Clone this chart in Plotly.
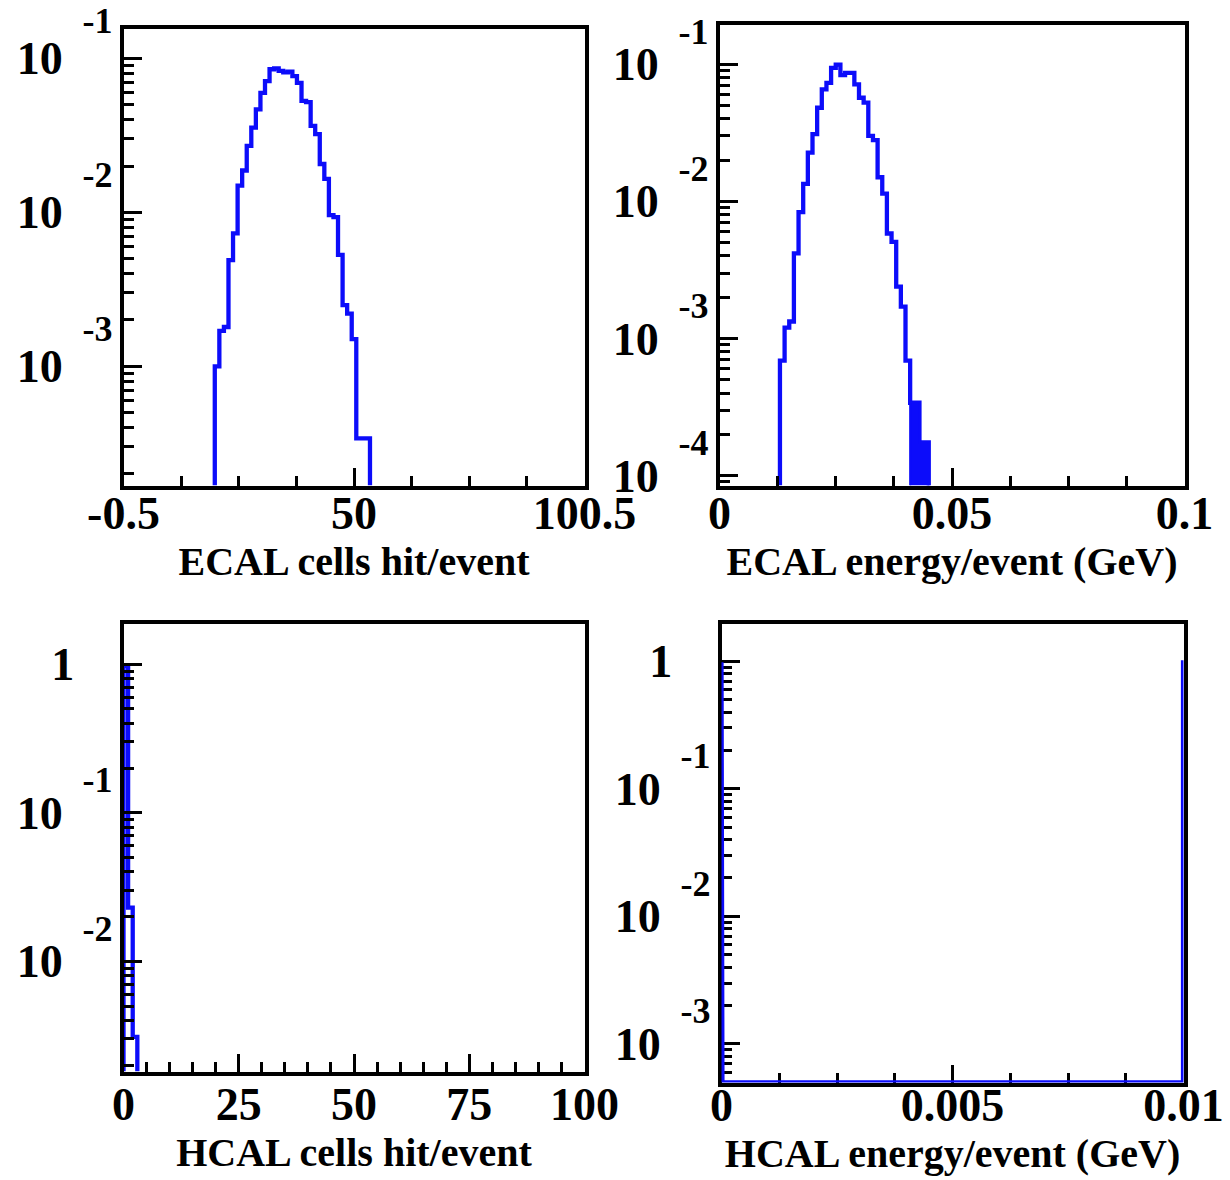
import numpy as np
import plotly.graph_objects as go

W, H = 1230, 1180

# ---------------- data ----------------
# Panel 1: ECAL cells hit/event, bins of width 1 from -0.5 to 100.5
ecal_hits_lo, ecal_hits_hi, ecal_hits_nbins = -0.5, 100.5, 101
ecal_hits_first_bin = 20
ecal_hits_values = [0.0010, 0.0017, 0.0018, 0.0049, 0.0073, 0.0149, 0.0187, 0.0270,
                    0.0355, 0.0467, 0.0597, 0.0711, 0.0850, 0.0860, 0.0830, 0.0810,
                    0.0820, 0.0766, 0.0693, 0.0530, 0.0520, 0.0364, 0.0322, 0.0206,
                    0.0165, 0.0096, 0.0093, 0.0053, 0.0025, 0.0022, 0.0015, 0.00034,
                    0.00034, 0.00034]

# Panel 2: ECAL energy/event (GeV), bins of width 0.001 from 0 to 0.1
ecal_e_lo, ecal_e_hi, ecal_e_nbins = 0.0, 0.1, 100
ecal_e_first_bin = 13
ecal_e_values = [0.00069, 0.00120, 0.00133, 0.00418, 0.00836, 0.0134, 0.0227, 0.0309,
                 0.0482, 0.0656, 0.0731, 0.0940, 0.0995, 0.0832, 0.0865, 0.0865,
                 0.0713, 0.0570, 0.0525, 0.0300, 0.0280, 0.0150, 0.0114, 0.00583,
                 0.00507, 0.00239, 0.00171, 0.00069, 0.00034, 0.00034, 0.000175, 0.000175]
ecal_e_dense_bins = [41, 42, 43, 44]

# Panel 3: HCAL cells hit/event, bins of width 1 from 0 to 100
hcal_hits_lo, hcal_hits_hi, hcal_hits_nbins = 0.0, 100.0, 100
hcal_hits_first_bin = 0
hcal_hits_values = [0.974, 0.023, 0.0031]

# Panel 4: HCAL energy/event (GeV), 1000 bins from 0 to 0.01
hcal_e_lo, hcal_e_hi, hcal_e_nbins = 0.0, 0.01, 1000
hcal_e_nonzero_bins = [0, 999]
hcal_e_nonzero_values = [0.98, 0.98]

# axis labels
titles = ["ECAL cells hit/event", "ECAL energy/event (GeV)",
          "HCAL cells hit/event", "HCAL energy/event (GeV)"]
x_major = [[-0.5, 50, 100.5], [0, 0.05, 0.1], [0, 25, 50, 75, 100], [0, 0.005, 0.01]]
x_major_text = [["-0.5", "50", "100.5"], ["0", "0.05", "0.1"],
                ["0", "25", "50", "75", "100"], ["0", "0.005", "0.01"]]
x_minor_step = [12.625, 0.0125, 5, 0.00125]
y_decades = [[-3, -2, -1], [-4, -3, -2, -1], [-2, -1, 0], [-3, -2, -1, 0]]

# ---------------- layout geometry (pixels) ----------------
frames = [  # left, right, top, bottom
    (123.5, 584.5, 28.5, 485.5),
    (719.5, 1184.5, 24.5, 485.5),
    (123.5, 584.5, 623.5, 1071.5),
    (721.5, 1183.5, 623.5, 1082.5),
]
y_log_ranges = [(-3.774, -0.806), (-4.072, -0.710), (-2.742, 0.274), (-3.303, 0.296)]
x_label_standoff = [-16, -16, -11, -21]
exp_shift = [-38, -33, -33, -33]

BLUE = "rgb(12,12,250)"
FONT = "Liberation Serif, Times New Roman, serif"


def steps(edges, vals, ymin):
    vals = np.maximum(np.asarray(vals, float), ymin)
    xs = np.repeat(edges, 2)
    ys = np.concatenate([[ymin], np.repeat(vals, 2), [ymin]])
    return xs, ys


fig = go.Figure()

specs = [
    (ecal_hits_lo, ecal_hits_hi, ecal_hits_nbins, ecal_hits_first_bin, ecal_hits_values),
    (ecal_e_lo, ecal_e_hi, ecal_e_nbins, ecal_e_first_bin, ecal_e_values),
    (hcal_hits_lo, hcal_hits_hi, hcal_hits_nbins, hcal_hits_first_bin, hcal_hits_values),
]
for i, (lo, hi, nb, fb, vals) in enumerate(specs):
    w = (hi - lo) / nb
    edges = lo + w * np.arange(fb, fb + len(vals) + 1)
    ymin = 10 ** y_log_ranges[i][0]
    xs, ys = steps(edges, vals, ymin)
    sfx = "" if i == 0 else str(i + 1)
    fig.add_trace(go.Scatter(x=xs, y=ys, mode="lines", line=dict(color=BLUE, width=4.3),
                             xaxis="x" + sfx, yaxis="y" + sfx, showlegend=False,
                             hoverinfo="skip"))
    if i == 1:
        dvals = [vals[b - fb] for b in ecal_e_dense_bins]
        dedges = lo + w * np.arange(ecal_e_dense_bins[0], ecal_e_dense_bins[-1] + 2)
        dx, dy = steps(dedges, dvals, ymin)
        fig.add_trace(go.Scatter(x=dx, y=dy, mode="lines", fill="toself",
                                 fillcolor=BLUE, line=dict(color=BLUE, width=2),
                                 xaxis="x2", yaxis="y2", showlegend=False,
                                 hoverinfo="skip"))

hv = np.zeros(hcal_e_nbins)
hv[hcal_e_nonzero_bins] = hcal_e_nonzero_values
hedges = np.linspace(hcal_e_lo, hcal_e_hi, hcal_e_nbins + 1)
xs, ys = steps(hedges, hv, 10 ** y_log_ranges[3][0])
fig.add_trace(go.Scatter(x=xs, y=ys, mode="lines", line=dict(color=BLUE, width=4.3),
                         xaxis="x4", yaxis="y4", showlegend=False, hoverinfo="skip"))

layout = dict(width=W, height=H, margin=dict(l=0, r=0, t=0, b=0), autosize=False,
              paper_bgcolor="white", plot_bgcolor="white",
              font=dict(family=FONT, size=46, color="black", weight="bold"),
              showlegend=False)

xranges = [(ecal_hits_lo, ecal_hits_hi), (ecal_e_lo, ecal_e_hi),
           (hcal_hits_lo, hcal_hits_hi), (hcal_e_lo, hcal_e_hi)]

for i in range(4):
    l, r, t, b = frames[i]
    sfx = "" if i == 0 else str(i + 1)
    xr = xranges[i]
    ylo, yhi = y_log_ranges[i]
    layer = "below traces" if i == 3 else "above traces"
    minor_x = list(np.arange(xr[0], xr[1] + 1e-12, x_minor_step[i]))
    layout["xaxis" + sfx] = dict(
        domain=[l / W, r / W], anchor="y" + sfx, range=list(xr), automargin=False,
        tickmode="array", tickvals=x_major[i], ticktext=x_major_text[i],
        ticks="inside", ticklen=18, tickwidth=3, tickcolor="black",
        minor=dict(tickmode="array", tickvals=minor_x, ticks="inside", ticklen=10,
                   tickwidth=3, tickcolor="black", showgrid=False),
        showline=True, linewidth=4, linecolor="black", mirror=True,
        showgrid=False, zeroline=False, layer=layer,
        tickfont=dict(size=46), ticklabelstandoff=x_label_standoff[i],
        title=dict(text=titles[i], font=dict(size=40), standoff=6),
    )
    decs = y_decades[i]
    majors = [10.0 ** d for d in decs]
    mtext = ["1" if d == 0 else "10\u00a0" for d in decs]
    minors = [m * 10.0 ** d for d in range(int(np.floor(ylo)), int(np.ceil(yhi)) + 1)
              for m in range(2, 10) if ylo <= np.log10(m * 10.0 ** d) <= yhi]
    layout["yaxis" + sfx] = dict(
        domain=[1 - b / H, 1 - t / H], anchor="x" + sfx, type="log", automargin=False,
        range=[ylo, yhi], tickmode="array", tickvals=majors, ticktext=mtext,
        ticks="inside", ticklen=18, tickwidth=3, tickcolor="black",
        minor=dict(tickmode="array", tickvals=minors, ticks="inside", ticklen=10,
                   tickwidth=3, tickcolor="black", showgrid=False),
        showline=True, linewidth=4, linecolor="black", mirror=True,
        showgrid=False, zeroline=False, layer=layer,
        tickfont=dict(size=46), ticklabelstandoff=36,
    )
    exps = [d for d in decs if d != 0]
    layout["yaxis" + str(i + 5)] = dict(
        overlaying="y" + sfx, anchor="x" + sfx, side="left", type="log",
        automargin=False,
        range=[ylo, yhi], tickmode="array", tickvals=[10.0 ** d for d in exps],
        ticktext=[str(d) for d in exps], ticks="", showline=False, showgrid=False,
        zeroline=False, tickfont=dict(size=36), ticklabelstandoff=10,
        ticklabelshift=exp_shift[i],
    )
    fig.add_trace(go.Scatter(x=[], y=[], xaxis="x" + sfx, yaxis="y" + str(i + 5),
                             showlegend=False, hoverinfo="skip"))

fig.update_layout(**layout)
fig.write_html("out.html")
